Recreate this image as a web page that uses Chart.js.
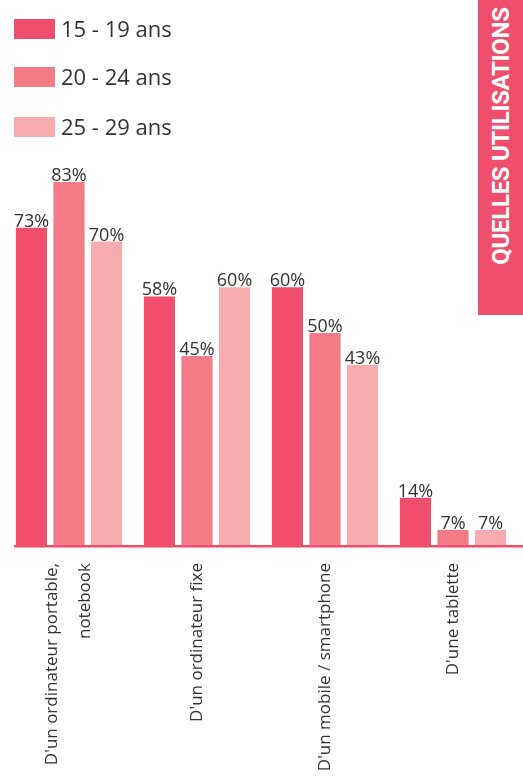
<!DOCTYPE html>
<html lang="fr">
<head>
<meta charset="utf-8">
<script src="https://cdn.jsdelivr.net/npm/chart.js@4/dist/chart.umd.min.js"></script>
<style>
  html, body { margin: 0; padding: 0; background: #fff; }
  #wrap { position: relative; width: 523px; height: 776px; overflow: hidden; font-family: 'Open Sans', sans-serif; }
  #chart { position: absolute; left: 0; top: 0; }
  .legend-row { position: absolute; left: 14px; height: 20px; display: flex; align-items: center; }
  .legend-row .sw { width: 41px; height: 20px; margin-right: 6px; }
  .legend-row span { font-size: 22px; color: #333; line-height: 20px; position: relative; top: -1px; }
  #side { position: absolute; left: 478px; top: 0; width: 45px; height: 315px; background: #ef4f6c; }
  #side span { position: absolute; left: 50%; top: 136px; transform: translate(-50%, -50%) rotate(-90deg);
    white-space: nowrap; color: #fff; font-family: Roboto, sans-serif; font-weight: 700; font-size: 24px; letter-spacing: -0.3px; }
</style>
</head>
<body>
<div id="wrap">
  <canvas id="chart" width="523" height="776"></canvas>
  <div id="legend"></div>
  <div id="side"><span>QUELLES UTILISATIONS</span></div>
</div>
<script>
// ─── Data ────────────────────────────────────────
const categories = [
  ["D'un ordinateur portable,", 'notebook'],
  "D'un ordinateur fixe",
  "D'un mobile / smartphone",
  "D'une tablette",
];
const seriesNames = ['15 - 19 ans', '20 - 24 ans', '25 - 29 ans'];
const age15to19 = [73, 58, 60, 14];
const age20to24 = [83, 45, 50, 7];
const age25to29 = [70, 60, 43, 7];
const colors = ['#ef4f6c', '#f37b86', '#f7adb0'];

// ─── Legend (HTML) ───────────────────────────────
const legendTops = [19, 67, 117];
const legendEl = document.getElementById('legend');
seriesNames.forEach((name, i) => {
  const row = document.createElement('div');
  row.className = 'legend-row';
  row.style.top = legendTops[i] + 'px';
  row.innerHTML = `<div class="sw" style="background:${colors[i]}"></div><span>${name}</span>`;
  legendEl.appendChild(row);
});

// ─── Plugins ─────────────────────────────────────
const valueLabels = {
  id: 'valueLabels',
  afterDatasetsDraw(chart) {
    const ctx = chart.ctx;
    ctx.save();
    ctx.font = "18px 'Open Sans', sans-serif";
    ctx.fillStyle = '#333';
    ctx.textAlign = 'center';
    ctx.textBaseline = 'alphabetic';
    chart.data.datasets.forEach((ds, di) => {
      chart.getDatasetMeta(di).data.forEach((bar, i) => {
        ctx.fillText(ds.data[i] + '%', bar.x, bar.y - 1);
      });
    });
    ctx.restore();
  },
};

const baseLine = {
  id: 'baseLine',
  afterDatasetsDraw(chart) {
    const ctx = chart.ctx;
    const y = chart.chartArea.bottom;
    ctx.save();
    ctx.fillStyle = '#ef4f6c';
    ctx.fillRect(14, y, chart.width - 14, 2.5);
    ctx.restore();
  },
};

// category labels, rotated, text end near the axis, multi-line centred on the tick
const catLabels = {
  id: 'catLabels',
  afterDraw(chart) {
    const ctx = chart.ctx;
    const xs = chart.scales.x;
    const top = chart.chartArea.bottom + 18;
    const lineH = 33;
    ctx.save();
    ctx.font = "17px 'Open Sans', sans-serif";
    ctx.fillStyle = '#333';
    ctx.textAlign = 'right';
    ctx.textBaseline = 'middle';
    chart.data.labels.forEach((lab, i) => {
      const lines = Array.isArray(lab) ? lab : [lab];
      const cx = xs.getPixelForValue(i);
      lines.forEach((line, k) => {
        const x = cx + (k - (lines.length - 1) / 2) * lineH;
        ctx.save();
        ctx.translate(x, top);
        ctx.rotate(-Math.PI / 2);
        ctx.fillText(line, 0, 0);
        ctx.restore();
      });
    });
    ctx.restore();
  },
};

// ─── Chart ───────────────────────────────────────
const bar = (label, data, i) => ({
  label, data,
  backgroundColor: colors[i],
  borderWidth: 0,
  categoryPercentage: 0.88,
  barPercentage: 0.83,
});

new Chart(document.getElementById('chart'), {
  type: 'bar',
  data: {
    labels: categories,
    datasets: [
      bar(seriesNames[0], age15to19, 0),
      bar(seriesNames[1], age20to24, 1),
      bar(seriesNames[2], age25to29, 2),
    ],
  },
  options: {
    responsive: false,
    animation: false,
    layout: { padding: { left: 5, right: 6, top: 150, bottom: 0 } },
    plugins: { legend: { display: false }, tooltip: { enabled: false } },
    scales: {
      x: {
        grid: { display: false },
        border: { display: false },
        ticks: { display: false },
        afterFit: s => { s.height = 231; },
      },
      y: { display: false, min: 3.7, max: 90 },
    },
  },
  plugins: [valueLabels, baseLine, catLabels],
});
</script>
</body>
</html>
